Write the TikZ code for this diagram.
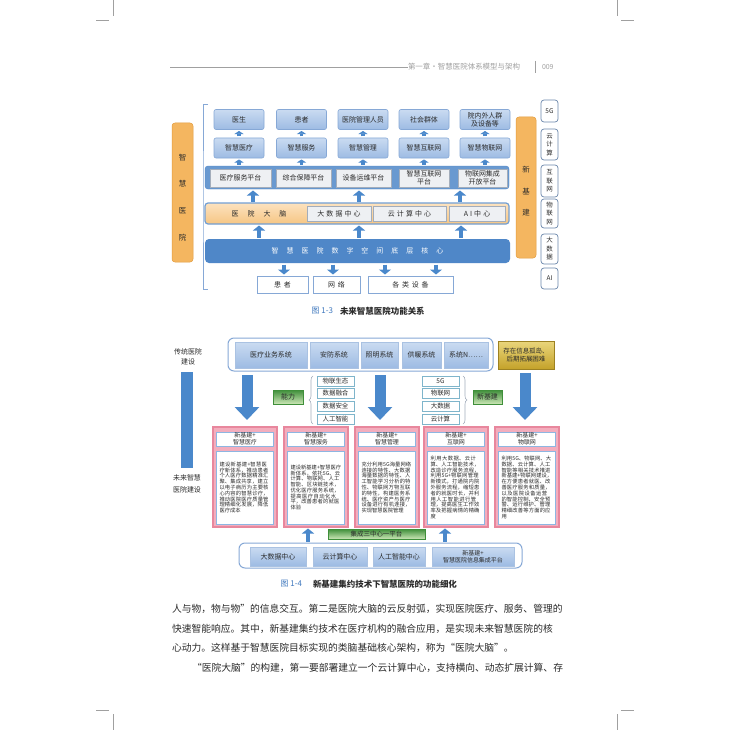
\documentclass[tikz,border=0pt]{standalone}
\usepackage{fontspec}
\setmainfont{Noto Sans CJK SC}
\XeTeXlinebreaklocale "zh"
\XeTeXlinebreakskip=0pt plus 1pt
\usetikzlibrary{arrows.meta,decorations.pathreplacing}

% Colours of the page
\definecolor{barorange}{HTML}{F4B660}
\definecolor{barline}{HTML}{E39C3C}
\definecolor{bluetop}{HTML}{CADBF1}
\definecolor{bluebot}{HTML}{9DBBE3}
\definecolor{blueline}{HTML}{86A8D6}
\definecolor{coreblue}{HTML}{4F87C8}
\definecolor{arrowblue}{HTML}{4A88CB}
\definecolor{peachtop}{HTML}{FCE2BF}
\definecolor{peachbot}{HTML}{F6C684}
\definecolor{greyfill}{HTML}{EEF0F3}
\definecolor{greyline}{HTML}{A3ADBB}
\definecolor{goldtop}{HTML}{EAD67C}
\definecolor{goldbot}{HTML}{C4A22A}
\definecolor{greendark}{HTML}{3F8F3A}
\definecolor{greenlight}{HTML}{CBE6B6}
\definecolor{pinkline}{HTML}{E8879D}
\definecolor{pinkfill}{HTML}{F3ADBD}
\definecolor{innerline}{HTML}{8DB6E2}
\definecolor{listline}{HTML}{7FB5CB}
\definecolor{pagegrey}{HTML}{A0A0A0}
\definecolor{ink}{HTML}{2B2B2B}
\definecolor{capblue}{HTML}{3F78BE}

\newcommand{\sizept}[1]{\fontsize{#1}{#1}\selectfont}

\tikzset{
  base/.style={inner sep=0pt, outer sep=0pt, align=center, text=ink},
  userbox/.style={base, draw=blueline, line width=0.6bp, top color=bluetop, bottom color=bluebot, rounded corners=2bp, minimum width=50bp, minimum height=20bp, font=\fontsize{7}{8}\selectfont},
  platrow/.style={base, fill=coreblue!85, draw=coreblue, rounded corners=3bp},
  platbox/.style={base, fill=greyfill, draw=greyline, line width=0.6bp, minimum height=18bp, font=\fontsize{7}{8}\selectfont},
  brainrow/.style={base, top color=peachtop, bottom color=peachbot, draw=coreblue!80, line width=1.2bp, rounded corners=3bp},
  corebar/.style={base, fill=coreblue, rounded corners=4bp, text=white, font=\sizept{7}},
  basebox/.style={base, fill=white, draw=blueline, line width=0.8bp, minimum height=17bp, font=\sizept{7}\addfontfeatures{LetterSpace=40}},
  sidebar/.style={base, fill=barorange, draw=barline, line width=0.5bp, rounded corners=3bp, minimum width=21bp},
  sidetext/.style={base, font=\fontsize{7.5}{27}\selectfont},
  techbox/.style={base, fill=white, draw=blueline!80!black, line width=0.7bp, rounded corners=3bp, minimum width=17bp, font=\fontsize{6.5}{8.5}\selectfont},
  bracket/.style={draw=blueline, line width=0.7bp},
  sarr/.style={draw=arrowblue, line width=3.5bp, -{Triangle[width=9bp,length=3bp]}, shorten <=1.5bp, shorten >=1.5bp},
  marr/.style={draw=arrowblue, line width=4.5bp, -{Triangle[width=12bp,length=5bp]}, shorten <=1.5bp, shorten >=1.5bp},
  barr/.style={draw=arrowblue, line width=11bp, -{Triangle[width=24bp,length=13bp]}, shorten <=4bp, shorten >=7bp},
  frame/.style={base, fill=white, draw=blueline, line width=1bp, rounded corners=6bp},
  sysbox/.style={base, draw=blueline!70, line width=0.5bp, top color=bluetop, bottom color=bluebot, minimum height=26bp, font=\fontsize{7}{8}\selectfont},
  goldbox/.style={base, draw=goldbot!80!black, line width=0.5bp, top color=goldtop, bottom color=goldbot, font=\fontsize{6.5}{9}\selectfont},
  greenbox/.style={base, draw=greendark, line width=0.5bp, top color=greendark, bottom color=greenlight, font=\sizept{7}},
  listbox/.style={base, fill=white, draw=listline, line width=0.8bp, minimum width=37bp, minimum height=10bp, font=\sizept{6.5}},
  bracedeco/.style={draw=greyline, line width=0.6bp, decorate, decoration={brace, amplitude=4bp}},
  pinkcard/.style={base, fill=pinkfill, draw=pinkline, line width=1.5bp, minimum width=64bp, minimum height=100bp},
  cardhead/.style={base, fill=white, draw=innerline, line width=0.8bp, minimum width=57bp, minimum height=14bp, font=\fontsize{6}{6.7}\selectfont},
  cardbody/.style={base, fill=white, draw=innerline, line width=0.8bp, text width=51bp, inner sep=3bp, minimum height=73bp, align=left, font=\fontsize{5.3}{5.8}\selectfont},
  captnum/.style={base, anchor=east, text=capblue, font=\sizept{8}},
  capttext/.style={base, anchor=west, font=\bfseries\sizept{8.5}},
  bodyline/.style={base, anchor=west, font=\sizept{9.8}, text=ink},
  headtext/.style={base, anchor=west, text=pagegrey, font=\sizept{7.5}},
  cropmark/.style={draw=pagegrey, line width=0.5bp}
}

\begin{document}
\begin{tikzpicture}[x=1bp, y=-1bp]
    % Fix the page
    \useasboundingbox[fill=white] (0,0) rectangle (730,730);

    % Draw the crop marks
    \draw[cropmark] (113,0) -- (113,16) (96,20) -- (109,20);
    \draw[cropmark] (617,0) -- (617,16) (621,20) -- (634,20);
    \draw[cropmark] (113,714) -- (113,730) (96,710) -- (109,710);
    \draw[cropmark] (617,714) -- (617,730) (621,710) -- (634,710);

    % Draw the running head
    \node[headtext] (head) at (408,67) {第一章・智慧医院体系模型与架构};
    \coordinate (headrule) at (170,67);
    \draw[pagegrey, line width=0.4bp] (headrule) -- (head.west);
    \node[headtext, font=\sizept{7}] (folio) at (542,67) {009};
    \draw[pagegrey, line width=0.4bp] ([xshift=-7bp,yshift=6bp]folio.west) -- ([xshift=-7bp,yshift=-6bp]folio.west);

    % Figure 1-3: the side bars and the bracket
    \node[sidebar, minimum height=139bp] (smartbar) at (182.5,192.5) {};
    \node[sidetext] (smarttext) at (182.5,197.5) {智\\慧\\医\\院};
    \node[sidebar, minimum width=20bp, minimum height=141bp] (newbar) at (526,187.5) {};
    \node[base, font=\fontsize{7.5}{21.5}\selectfont] (newtext) at (526,191.5) {新\\基\\建};
    \coordinate (brtop) at (208,104);
    \coordinate (brbot) at (208,289);
    \draw[bracket] (brtop) -| (203,196.5) |- (brbot);

    % Figure 1-3: users and services
    \node[userbox] (u1) at (239,119.5) {医生};
    \node[userbox] (u2) at (301.5,119.5) {患者};
    \node[userbox] (u3) at (363,119.5) {医院管理人员};
    \node[userbox] (u4) at (424,119.5) {社会群体};
    \node[userbox] (u5) at (485,119.5) {院内外人群\\及设备等};
    \node[userbox] (s1) at (239,148) {智慧医疗};
    \node[userbox] (s2) at (301.5,148) {智慧服务};
    \node[userbox] (s3) at (363,148) {智慧管理};
    \node[userbox] (s4) at (424,148) {智慧互联网};
    \node[userbox] (s5) at (485,148) {智慧物联网};
    \draw[sarr] (s1) -- (u1);
    \draw[sarr] (s2) -- (u2);
    \draw[sarr] (s3) -- (u3);
    \draw[sarr] (s4) -- (u4);
    \draw[sarr] (s5) -- (u5);

    % Figure 1-3: platforms
    \node[platrow, minimum width=304bp, minimum height=23bp] (platform) at (357,177.5) {};
    \node[platbox, minimum width=61bp] (p1) at (240.5,178) {医疗服务平台};
    \node[platbox, minimum width=55bp] (p2) at (303.5,178) {综合保障平台};
    \node[platbox, minimum width=55bp] (p3) at (363.5,178) {设备运维平台};
    \node[platbox, minimum width=50bp] (p4) at (424,178) {智慧互联网\\平台};
    \node[platbox, minimum width=49bp] (p5) at (482.5,178) {物联网集成\\开放平台};
    \draw[sarr] (platform.north -| s1) -- (s1);
    \draw[sarr] (platform.north -| s2) -- (s2);
    \draw[sarr] (platform.north -| s3) -- (s3);
    \draw[sarr] (platform.north -| s4) -- (s4);
    \draw[sarr] (platform.north -| s5) -- (s5);

    % Figure 1-3: the hospital brain
    \node[brainrow, minimum width=304bp, minimum height=21bp] (brain) at (357,213.5) {};
    \node[base, font=\sizept{7}] (braintitle) at (259,213.5) {医\hspace{9bp}院\hspace{9bp}大\hspace{9bp}脑};
    \node[platbox, minimum width=64bp, minimum height=15bp, font=\sizept{7}\addfontfeatures{LetterSpace=30}] (bdc) at (339,214) {大数据中心};
    \node[platbox, minimum width=73bp, minimum height=15bp, font=\sizept{7}\addfontfeatures{LetterSpace=30}] (ccc) at (409.5,214) {云计算中心};
    \node[platbox, minimum width=56bp, minimum height=15bp, font=\sizept{7}\addfontfeatures{LetterSpace=30}] (aic) at (477,214) {AI中心};
    \coordinate (a1) at (253,0);
    \coordinate (a2) at (359,0);
    \coordinate (a3) at (460,0);
    \draw[marr] (brain.north -| a1) -- (platform.south -| a1);
    \draw[marr] (brain.north -| a2) -- (platform.south -| a2);
    \draw[marr] (brain.north -| a3) -- (platform.south -| a3);

    % Figure 1-3: the digital core
    \node[corebar, minimum width=305bp, minimum height=24bp] (core) at (357.5,251)
      {智\hspace{8bp}慧\hspace{8bp}医\hspace{8bp}院\hspace{8bp}数\hspace{8bp}字\hspace{8bp}空\hspace{8bp}间\hspace{8bp}底\hspace{8bp}层\hspace{8bp}核\hspace{8bp}心};
    \coordinate (b1) at (259,0);
    \coordinate (b2) at (359,0);
    \coordinate (b3) at (461,0);
    \draw[marr] (core.north -| b1) -- (brain.south -| b1);
    \draw[marr] (core.north -| b2) -- (brain.south -| b2);
    \draw[marr] (core.north -| b3) -- (brain.south -| b3);

    % Figure 1-3: what the core rests on
    \node[basebox, minimum width=51bp] (patient) at (282.5,284.5) {患者};
    \node[basebox, minimum width=47bp] (network) at (336.5,284.5) {网络};
    \node[basebox, minimum width=85bp] (device) at (410.5,284.5) {各类设备};
    \coordinate (d1) at (284,0);
    \coordinate (d2) at (333,0);
    \coordinate (d3) at (385,0);
    \coordinate (d4) at (436,0);
    \draw[marr] (core.south -| d1) -- (patient.north -| d1);
    \draw[marr] (core.south -| d2) -- (network.north -| d2);
    \draw[marr] (core.south -| d3) -- (device.north -| d3);
    \draw[marr] (core.south -| d4) -- (device.north -| d4);

    % Figure 1-3: technologies
    \node[techbox, minimum height=22bp] (t5g) at (549.5,111) {5G};
    \node[techbox, minimum height=31bp] (tcloud) at (549.5,144.5) {云\\计\\算};
    \node[techbox, minimum height=32bp] (tnet) at (549.5,181) {互\\联\\网};
    \node[techbox, minimum height=29bp] (tiot) at (549.5,213.5) {物\\联\\网};
    \node[techbox, minimum height=30bp] (tdata) at (549.5,249) {大\\数\\据};
    \node[techbox, minimum height=21bp] (tai) at (549.5,278.5) {AI};

    \node[captnum] (cap13n) at (333,311) {图 1-3};
    \node[capttext] (cap13) at (340,311) {未来智慧医院功能关系};

    % Figure 1-4: from old to new
    \node[base, font=\fontsize{7}{10}\selectfont] (oldtxt) at (188,357) {传统医院\\建设};
    \node[base, fill=arrowblue, minimum width=12bp, minimum height=96bp] (oldbar) at (187,420) {};
    \node[base, font=\fontsize{7}{12}\selectfont] (newtxt) at (187,484) {未来智慧\\医院建设};

    % Figure 1-4: separate systems
    \node[frame, minimum width=265bp, minimum height=33bp] (systems) at (360.5,354.5) {};
    \node[sysbox, minimum width=72bp] (sy1) at (271,355) {医疗业务系统};
    \node[sysbox, minimum width=48bp] (sy2) at (334,355) {安防系统};
    \node[sysbox, minimum width=37bp] (sy3) at (379.5,355) {照明系统};
    \node[sysbox, minimum width=39bp] (sy4) at (421.5,355) {供暖系统};
    \node[sysbox, minimum width=44bp] (sy5) at (466,355) {系统N……};
    \node[goldbox, minimum width=56bp, minimum height=28bp] (island) at (526,355) {存在信息孤岛、\\后期拓展困难};

    % Figure 1-4: abilities and new infrastructure
    \node[greenbox, minimum width=30bp, minimum height=14bp] (ability) at (288,397) {能力};
    \node[listbox] (l1) at (335.5,381) {物联生态};
    \node[listbox] (l2) at (335.5,393) {数据融合};
    \node[listbox] (l3) at (335.5,406) {数据安全};
    \node[listbox] (l4) at (335.5,419) {人工智能};
    \draw[bracedeco] ([xshift=-4bp]l4.south west) -- ([xshift=-4bp]l1.north west);
    \node[listbox] (r1) at (440.5,381) {5G};
    \node[listbox] (r2) at (440.5,393) {物联网};
    \node[listbox] (r3) at (440.5,406) {大数据};
    \node[listbox] (r4) at (440.5,419) {云计算};
    \draw[bracedeco] ([xshift=4bp]r1.north east) -- ([xshift=4bp]r4.south east);
    \node[greenbox, minimum width=29bp, minimum height=14bp] (newinfra) at (487.5,397) {新基建};

    % Figure 1-4: the five cards
    \node[pinkcard] (pk1) at (245,477) {};
    \node[cardhead] (ch1) at (245,439) {新基建+\\智慧医疗};
    \node[cardbody] (cb1) at (245,487.5) {建设新基建+智慧医疗新体系，推动患者个人医疗数据精准汇聚、集成共享，建立以电子病历为主要核心内容的智慧诊疗，推动医院医疗质量管理精细化发展，降低医疗成本};
    \node[pinkcard] (pk2) at (316,477) {};
    \node[cardhead] (ch2) at (316,439) {新基建+\\智慧服务};
    \node[cardbody] (cb2) at (316,487.5) {建设新基建+智慧医疗新体系，依托5G、云计算、物联网、人工智能、区块链技术，优化医疗服务系统，提高医疗自动化水平，改善患者的就医体验};
    \node[pinkcard] (pk3) at (387,477) {};
    \node[cardhead] (ch3) at (387,439) {新基建+\\智慧管理};
    \node[cardbody] (cb3) at (387,487.5) {充分利用5G海量网络连接的特性、大数据海量数据的特性、人工智能学习分析的特性、物联网万物互联的特性，构建医务系统、医疗资产与医疗设备进行有机连接，实现智慧医院管理};
    \node[pinkcard] (pk4) at (456,477) {};
    \node[cardhead] (ch4) at (456,439) {新基建+\\互联网};
    \node[cardbody] (cb4) at (456,487.5) {利用大数据、云计算、人工智能技术，改造诊疗服务流程，利用5G+物联网管理新模式，打通院内院外服务流程，缩短患者的就医时长，并利用人工智能进行管理，提高医生工作效率及把握病情的精确度};
    \node[pinkcard] (pk5) at (527,477) {};
    \node[cardhead] (ch5) at (527,439) {新基建+\\物联网};
    \node[cardbody] (cb5) at (527,487.5) {利用5G、物联网、大数据、云计算、人工智能等相关技术推进新基建+物联网建设，在方便患者就医、改善医疗服务和质量，以及医院设备运营的智能控制、安全预警、运行维护、管理精细改善等方面的应用};

    % Figure 1-4: the big arrows
    \coordinate (k1) at (247,0);
    \coordinate (k2) at (380,0);
    \coordinate (k3) at (525,0);
    \draw[barr] (systems.south -| k1) -- (pk1.north -| k1);
    \draw[barr] (systems.south -| k2) -- (pk3.north -| k2);
    \draw[barr] (island.south -| k3) -- (pk5.north -| k3);

    % Figure 1-4: three centres and one platform
    \node[greenbox, minimum width=97bp, minimum height=10bp, font=\sizept{6.5}] (banner) at (376.5,534) {集成三中心一平台};
    \node[frame, minimum width=283bp, minimum height=25bp] (centers) at (380.5,555.5) {};
    \node[sysbox, minimum width=56bp, minimum height=19bp] (c1) at (278,556.5) {大数据中心};
    \node[sysbox, minimum width=54bp, minimum height=19bp] (c2) at (340,556.5) {云计算中心};
    \node[sysbox, minimum width=52bp, minimum height=19bp] (c3) at (399,556.5) {人工智能中心};
    \node[sysbox, minimum width=82bp, minimum height=19bp, font=\fontsize{6}{7}\selectfont] (c4) at (473,556.5) {新基建+\\智慧医院信息集成平台};
    \coordinate (m1) at (308,0);
    \coordinate (m2) at (445,0);
    \draw[marr] (centers.north -| m1) -- (pk2.south -| m1);
    \draw[marr] (centers.north -| m2) -- (pk4.south -| m2);

    \node[captnum] (cap14n) at (302,584) {图 1-4};
    \node[capttext] (cap14) at (313,584) {新基建集约技术下智慧医院的功能细化};

    % The running text
    \node[bodyline] (line1) at (172,609) {人与物，物与物”的信息交互。第二是医院大脑的云反射弧，实现医院医疗、服务、管理的};
    \node[bodyline] (line2) at (172,629) {快速智能响应。其中，新基建集约技术在医疗机构的融合应用，是实现未来智慧医院的核};
    \node[bodyline] (line3) at (172,648) {心动力。这样基于智慧医院目标实现的类脑基础核心架构，称为“医院大脑”。};
    \node[bodyline] (line4) at (192,668) {“医院大脑”的构建，第一要部署建立一个云计算中心，支持横向、动态扩展计算、存};
\end{tikzpicture}
\end{document}
